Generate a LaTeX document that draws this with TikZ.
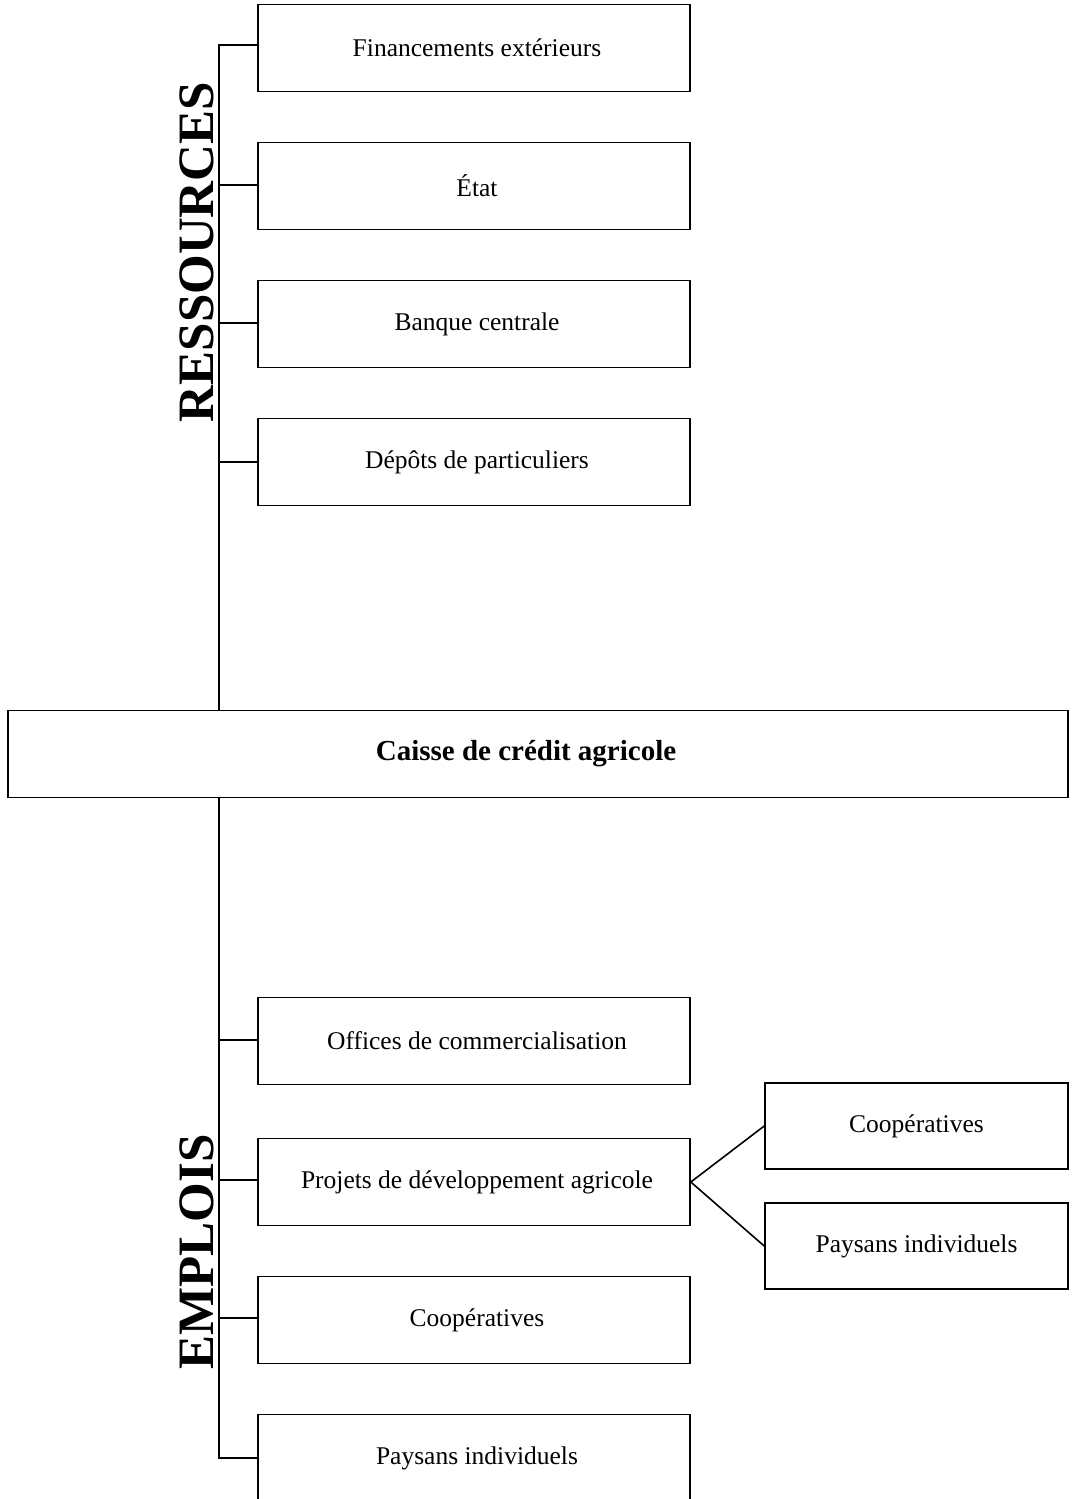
\documentclass[tikz,border=0pt]{standalone}
\usepackage{fontspec}
\setmainfont{Liberation Serif}
\begin{document}
\begin{tikzpicture}[x=1pt,y=-1pt,
  box/.style={draw, line width=1.6pt, minimum width=432pt, minimum height=87pt, inner sep=0pt, font=\fontsize{25.5}{30}\selectfont},
  sbox/.style={draw, line width=1.6pt, minimum width=303pt, minimum height=86pt, inner sep=0pt, font=\fontsize{25.5}{30}\selectfont},
  link/.style={line width=1.6pt},
  side/.style={rotate=90, font=\fontsize{51}{56}\selectfont\bfseries, inner sep=0pt}]
\useasboundingbox (0,0) rectangle (1075,1499);
\clip (0,0) rectangle (1075,1499);
% top
\node[box] (f1) at (474,48) {\hspace*{6pt}Financements extérieurs};
\node[box] (f2) at (474,186) {\hspace*{6pt}État};
\node[box] (f3) at (474,324) {\hspace*{6pt}Banque centrale};
\node[box] (f4) at (474,462) {\hspace*{6pt}Dépôts de particuliers};
\node[draw, line width=1.6pt, minimum width=1060pt, minimum height=87pt, inner sep=0pt, font=\fontsize{29}{34}\selectfont\bfseries] (c) at (538,754) {Caisse de crédit agricole\hspace*{24pt}};
% bottom
\node[box] (e1) at (474,1041) {\hspace*{6pt}Offices de commercialisation};
\node[box] (e2) at (474,1182) {\hspace*{6pt}Projets de développement agricole};
\node[box] (e3) at (474,1320) {\hspace*{6pt}Coopératives};
\node[box] (e4) at (474,1458) {\hspace*{6pt}Paysans individuels};
\node[sbox] (r1) at (916.5,1126) {Coopératives};
\node[sbox] (r2) at (916.5,1246) {Paysans individuels};
% labels
\node[side] (lr) at (197,252) {RESSOURCES};
\node[side] (le) at (197,1252) {EMPLOIS};
% trunk
\coordinate (t1) at (219,45);
\coordinate (t2) at (219,185);
\coordinate (t3) at (219,323);
\coordinate (t4) at (219,462);
\coordinate (b1) at (219,1040);
\coordinate (b2) at (219,1180);
\coordinate (b3) at (219,1318);
\coordinate (b4) at (219,1458);
\draw[link] (f1.west |- t1) -- (t1) -- (t1 |- c.north);
\draw[link] (t2) -- (f2.west |- t2);
\draw[link] (t3) -- (f3.west |- t3);
\draw[link] (t4) -- (f4.west |- t4);
\draw[link] (b4 |- c.south) -- (b4) -- (e4.west |- b4);
\draw[link] (b1) -- (e1.west |- b1);
\draw[link] (b2) -- (e2.west |- b2);
\draw[link] (b3) -- (e3.west |- b3);
\draw[link] (e2.east) -- (r1.west);
\draw[link] (e2.east) -- (r2.west);
\end{tikzpicture}
\end{document}
